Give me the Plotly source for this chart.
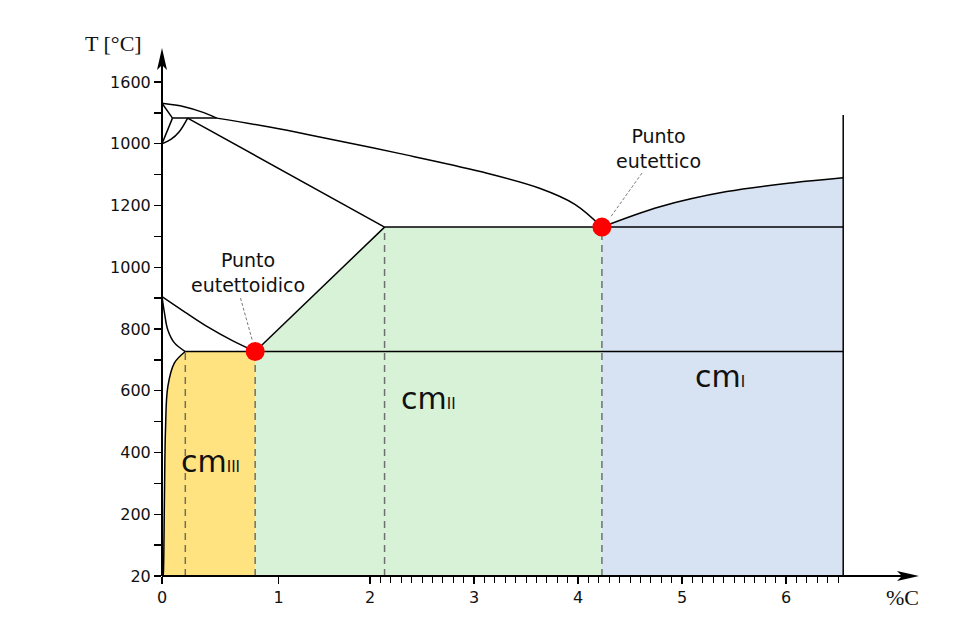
import numpy as np
import plotly.graph_objects as go

# ---------------- data ----------------
x_ticks = [0, 1, 2, 3, 4, 5, 6]
x_tick_labels = ["0", "1", "2", "3", "4", "5", "6"]
x_minor_ticks = [2.1, 2.2, 2.3, 2.4, 2.5, 2.6, 2.7, 2.8, 2.9,
                 3.1, 3.2, 3.3, 3.4, 3.5, 3.6, 3.7, 3.8, 3.9,
                 4.1, 4.2, 4.3, 4.4, 4.5, 4.6, 4.7, 4.8, 4.9,
                 5.1, 5.2, 5.3, 5.4, 5.5, 5.6, 5.7, 5.8, 5.9,
                 6.1, 6.2, 6.3, 6.4, 6.5]
y_ticks = [0, 200, 400, 600, 800, 1000, 1200, 1400, 1600]
y_tick_labels = ["20", "200", "400", "600", "800", "1000", "1200", "1000", "1600"]
y_minor_ticks = [100, 300, 500, 700, 900, 1100, 1300, 1500]

# boundary lines (%C, T)
delta_liq_c = [0, 0.19, 0.333, 0.47]
delta_liq_T = [1531, 1520, 1504, 1483]
liquidus_c = [0.47, 0.923, 1.45, 2.29, 3.06, 3.63, 3.97, 4.23]
liquidus_T = [1483, 1454, 1422, 1368, 1310, 1256, 1204, 1130]
delta_sol_c = [0, 0.09]
delta_sol_T = [1531, 1483]
peritectic_c = [0.09, 0.47]
peritectic_T = [1483, 1483]
delta_gamma1_c = [0, 0.09]
delta_gamma1_T = [1400, 1483]
delta_gamma2_c = [0, 0.076, 0.148, 0.22]
delta_gamma2_T = [1400, 1414, 1439, 1483]
gamma_sol_c = [0.22, 2.14]
gamma_sol_T = [1483, 1130]
eutectic_line_c = [2.14, 6.55]
eutectic_line_T = [1130, 1130]
cem_liq_c = [4.23, 4.788, 5.43, 6.07, 6.55]
cem_liq_T = [1130, 1196, 1245, 1274, 1290]
right_edge_c = [6.55, 6.55]
right_edge_T = [0, 1493]
a3_c = [0, 0.2, 0.4, 0.6, 0.8]
a3_T = [905, 854, 805, 763, 727]
alpha_c = [0, 0.021, 0.05, 0.107, 0.2]
alpha_T = [905, 852, 797, 755, 727]
eutectoid_line_c = [0.2, 6.55]
eutectoid_line_T = [727, 727]
solvus_c = [0.01, 0.013, 0.021, 0.03, 0.05, 0.107, 0.2]
solvus_T = [0, 19, 256, 473, 613, 690, 727]
acm_c = [0.8, 2.14]
acm_T = [727, 1130]

green_c = [0.8, 2.14, 4.23]
green_T = [727, 1130, 1130]
yellow_right_c = [0.8, 0.8]
yellow_right_T = [0, 727]

dashed_c = [0.2, 0.8, 2.14, 4.23]
dashed_top_T = [727, 727, 1130, 1130]

points_c = [0.8, 4.23]
points_T = [727, 1130]

# ---------------- schematic (piecewise) x scale ----------------
def ax(c):
    c = np.asarray(c, dtype=float)
    return np.where(c <= 1, 1.12 * c, np.where(c <= 2, 1.12 + 0.88 * (c - 1), c)).tolist()

L, R, T_, B = 162, 20, 20, 64
PX_PER_X = 104.0
PX_PER_T = 0.30875
XMAX = (960 - L - R) / PX_PER_X
YMAX = (640 - T_ - B) / PX_PER_T
PW, PH = 960 - L - R, 640 - T_ - B

def pxx(p):  # pixel -> paper x
    return (p - L) / PW

def pxy(p):  # pixel -> paper y
    return (640 - B - p) / PH

YELLOW = "#FFE381"
GREEN = "#D8F2D7"
BLUE = "#D7E2F2"

fig = go.Figure()

def add_line(c, T, shape="linear", width=1.5, color="black", dash=None, fill=None, fillcolor=None):
    fig.add_trace(go.Scatter(
        x=ax(c), y=T, mode="lines",
        line=dict(color=color, width=width, shape=shape, dash=dash),
        fill=fill, fillcolor=fillcolor,
        hoverinfo="skip", showlegend=False))

# fills
add_line(solvus_c, solvus_T, shape="spline", width=0, color="rgba(0,0,0,0)")
add_line(yellow_right_c, yellow_right_T, width=0, color="rgba(0,0,0,0)", fill="tonextx", fillcolor=YELLOW)
add_line(green_c, green_T, width=0, color="rgba(0,0,0,0)", fill="tozeroy", fillcolor=GREEN)
add_line(cem_liq_c, cem_liq_T, shape="spline", width=0, color="rgba(0,0,0,0)", fill="tozeroy", fillcolor=BLUE)

# dashed verticals
for c, t in zip(dashed_c, dashed_top_T):
    add_line([c, c], [0, t], width=1.5, color="rgba(90,90,90,0.85)", dash="7px,5px")

# boundaries
add_line(delta_liq_c, delta_liq_T, shape="spline")
add_line(liquidus_c, liquidus_T, shape="spline")
add_line(delta_sol_c, delta_sol_T)
add_line(peritectic_c, peritectic_T)
add_line(delta_gamma1_c, delta_gamma1_T)
add_line(delta_gamma2_c, delta_gamma2_T, shape="spline")
add_line(gamma_sol_c, gamma_sol_T)
add_line(eutectic_line_c, eutectic_line_T)
add_line(cem_liq_c, cem_liq_T, shape="spline")
add_line(right_edge_c, right_edge_T)
add_line(a3_c, a3_T, shape="spline")
add_line(alpha_c, alpha_T, shape="spline")
add_line(eutectoid_line_c, eutectoid_line_T)
add_line(solvus_c, solvus_T, shape="spline")
add_line(acm_c, acm_T)

# leader lines (from label towards point)
add_line([0.674, 0.777], [900, 761], width=0.8, color="#555", dash="3px,2px")
add_line([4.615, 4.308], [1305, 1160], width=0.8, color="#555", dash="3px,2px")

# special points
fig.add_trace(go.Scatter(x=ax(points_c), y=points_T, mode="markers",
                         marker=dict(color="#FF0000", size=19, line=dict(width=0)),
                         cliponaxis=False, hoverinfo="skip", showlegend=False))

shapes = [
    dict(type="line", xref="paper", yref="paper", x0=0, x1=0, y0=0, y1=pxy(62),
         line=dict(color="black", width=2)),
    dict(type="line", xref="paper", yref="paper", x0=0, x1=pxx(905), y0=0, y1=0,
         line=dict(color="black", width=2)),
    dict(type="path", xref="paper", yref="paper", xsizemode="pixel", ysizemode="pixel",
         xanchor=0, yanchor=pxy(48), path="M0,0 L-5,-22 L0,-17 L5,-22 Z",
         fillcolor="black", line=dict(width=0)),
    dict(type="path", xref="paper", yref="paper", xsizemode="pixel", ysizemode="pixel",
         xanchor=pxx(919), yanchor=0, path="M0,0 L-22,5 L-17,0 L-22,-5 Z",
         fillcolor="black", line=dict(width=0)),
]

SANS = "DejaVu Sans"
SERIF = "Liberation Serif"

def label(text, px, py, family, size):
    return dict(text=text, xref="paper", yref="paper", x=pxx(px), y=pxy(py),
                xanchor="center", yanchor="middle", showarrow=False,
                font=dict(family=family, size=size, color="#111"))

annotations = [
    label("T [°C]", 113, 44, SERIF, 22),
    label("%C", 902, 597, SERIF, 22),
    label("Punto<br>eutettoidico", 248, 272, SANS, 19),
    label("Punto<br>eutettico", 658, 148, SANS, 19),
    label('cm<span style="font-size:15px">III</span>', 210, 462, SANS, 30),
    label('cm<span style="font-size:15px">II</span>', 428, 398, SANS, 30),
    label('cm<span style="font-size:15px">I</span>', 720, 376, SANS, 30),
]

fig.update_layout(
    width=960, height=640,
    margin=dict(l=L, r=R, t=T_, b=B, pad=0),
    plot_bgcolor="white", paper_bgcolor="white", showlegend=False,
    shapes=shapes, annotations=annotations,
    xaxis=dict(range=[0, XMAX], showgrid=False, zeroline=False, showline=False,
               automargin=False, fixedrange=True,
               tickmode="array", tickvals=ax(x_ticks), ticktext=x_tick_labels,
               ticks="outside", ticklen=7, tickwidth=1.3, tickcolor="black",
               tickfont=dict(family=SANS, size=16, color="#111"),
               minor=dict(tickmode="array", tickvals=ax(x_minor_ticks), ticks="outside",
                          ticklen=6, tickwidth=1, tickcolor="black")),
    yaxis=dict(range=[0, YMAX], showgrid=False, zeroline=False, showline=False,
               automargin=False, fixedrange=True,
               tickmode="array", tickvals=y_ticks, ticktext=y_tick_labels,
               ticks="outside", ticklen=7, tickwidth=1.3, tickcolor="black",
               tickfont=dict(family=SANS, size=16, color="#111"),
               minor=dict(tickmode="array", tickvals=y_minor_ticks, ticks="outside",
                          ticklen=7, tickwidth=1.3, tickcolor="black")),
)

fig.write_html("out.html", config={"displayModeBar": False, "staticPlot": True})

# remove the browser's default page margin so the figure sits at (0, 0)
with open("out.html", "r", encoding="utf-8") as f:
    html = f.read()
html = html.replace("<head>", "<head><style>html,body{margin:0;padding:0;overflow:hidden;}</style>", 1)
with open("out.html", "w", encoding="utf-8") as f:
    f.write(html)
